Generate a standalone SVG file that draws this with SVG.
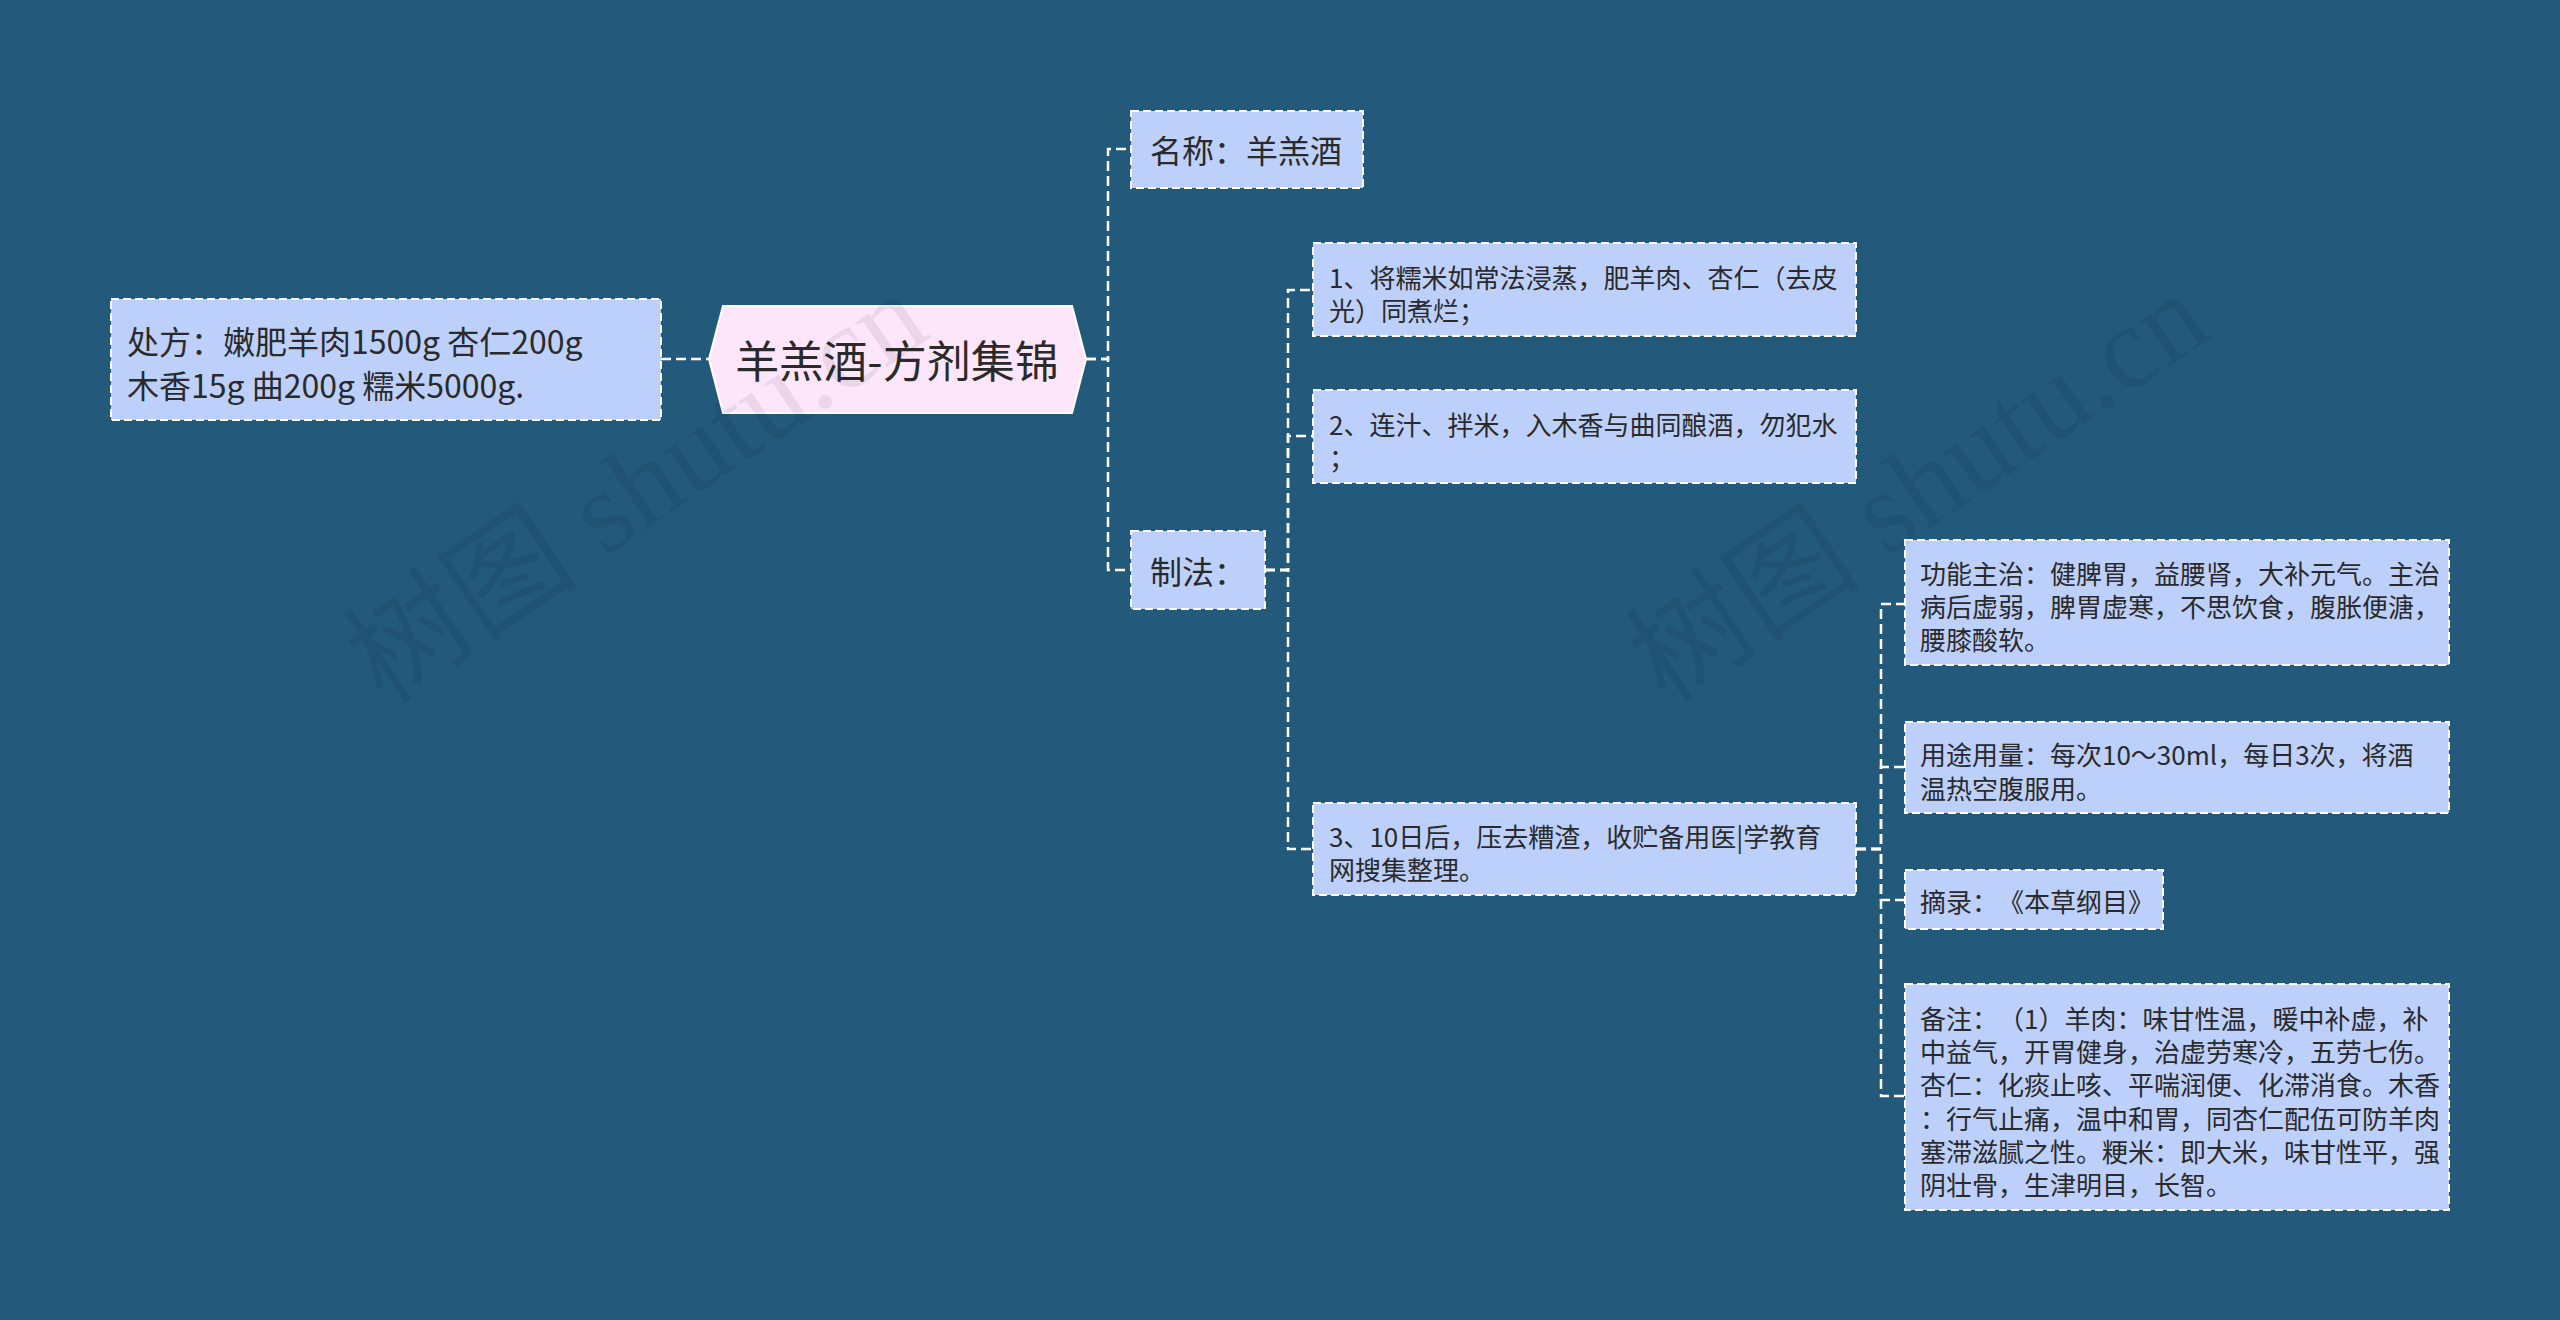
<svg xmlns="http://www.w3.org/2000/svg" width="2560" height="1320" viewBox="0 0 2560 1320">
<style>
.box{fill:#bdd0fb;stroke:#ffffff;stroke-width:2;stroke-dasharray:8 4}
.hex{fill:#fde6fa;stroke:#ffffff;stroke-width:2}
.t{font-family:"Noto Sans CJK SC","Noto Sans",sans-serif;fill:#2a2a2a;dominant-baseline:central;text-spacing-trim:space-all}
.big{font-size:32px}
.small{font-size:26px}
.title{font-size:44px}
.con{fill:none;stroke:#ffffff;stroke-width:2.5;stroke-dasharray:10 5}
.wm{font-family:"Liberation Serif","Noto Sans CJK SC",serif;font-size:118px;fill:#000000;fill-opacity:0.07}
</style>
<rect x="0" y="0" width="2560" height="1320" fill="#235a7c"/>
<g id="connectors">
<path class="con" d="M661 359 H709"/>
<path class="con" d="M1086 359 H1108 V149 H1131"/>
<path class="con" d="M1086 359 H1108 V570 H1131"/>
<path class="con" d="M1265 570 H1288 V290 H1313"/>
<path class="con" d="M1265 570 H1288 V436 H1313"/>
<path class="con" d="M1265 570 H1288 V849 H1313"/>
<path class="con" d="M1856 849 H1881 V604 H1905"/>
<path class="con" d="M1856 849 H1881 V767 H1905"/>
<path class="con" d="M1856 849 H1881 V900 H1905"/>
<path class="con" d="M1856 849 H1881 V1096 H1905"/>
</g>
<g id="root">
<polygon class="hex" points="709,359 723,306 1072,306 1086,359 1072,413 723,413"/>
<text class="t title" x="897" y="359" text-anchor="middle">羊羔酒-方剂集锦</text>
</g>
<g id="chufang">
<rect class="box" x="111" y="299" width="550" height="121"/>
<text class="t big" x="127" y="340">处方：嫩肥羊肉1500g 杏仁200g</text>
<text class="t big" x="127" y="384">木香15g 曲200g 糯米5000g.</text>
</g>
<g id="mingcheng">
<rect class="box" x="1131" y="111" width="232" height="77"/>
<text class="t big" x="1150" y="149">名称：羊羔酒</text>
</g>
<g id="zhifa">
<rect class="box" x="1131" y="531" width="134" height="78"/>
<text class="t big" x="1150" y="570">制法：</text>
</g>
<g id="step1">
<rect class="box" x="1313" y="243" width="543" height="93"/>
<text class="t small" x="1329" y="276">1、将糯米如常法浸蒸，肥羊肉、杏仁（去皮</text>
<text class="t small" x="1329" y="309">光）同煮烂；</text>
</g>
<g id="step2">
<rect class="box" x="1313" y="390" width="543" height="93"/>
<text class="t small" x="1329" y="423">2、连汁、拌米，入木香与曲同酿酒，勿犯水</text>
<text class="t small" x="1329" y="456">；</text>
</g>
<g id="step3">
<rect class="box" x="1313" y="803" width="543" height="92"/>
<text class="t small" x="1329" y="835">3、10日后，压去糟渣，收贮备用医|学教育</text>
<text class="t small" x="1329" y="868">网搜集整理。</text>
</g>
<g id="gongneng">
<rect class="box" x="1905" y="540" width="544" height="125"/>
<text class="t small" x="1920" y="572">功能主治：健脾胃，益腰肾，大补元气。主治</text>
<text class="t small" x="1920" y="605">病后虚弱，脾胃虚寒，不思饮食，腹胀便溏，</text>
<text class="t small" x="1920" y="638">腰膝酸软。</text>
</g>
<g id="yongtu">
<rect class="box" x="1905" y="722" width="544" height="91"/>
<text class="t small" x="1920" y="753">用途用量：每次10～30ml，每日3次，将酒</text>
<text class="t small" x="1920" y="787">温热空腹服用。</text>
</g>
<g id="zhailu">
<rect class="box" x="1905" y="870" width="258" height="59"/>
<text class="t small" x="1920" y="900">摘录：《本草纲目》</text>
</g>
<g id="beizhu">
<rect class="box" x="1905" y="984" width="544" height="226"/>
<text class="t small" x="1920" y="1017">备注：（1）羊肉：味甘性温，暖中补虚，补</text>
<text class="t small" x="1920" y="1050">中益气，开胃健身，治虚劳寒冷，五劳七伤。</text>
<text class="t small" x="1920" y="1083">杏仁：化痰止咳、平喘润便、化滞消食。木香</text>
<text class="t small" x="1920" y="1117">：行气止痛，温中和胃，同杏仁配伍可防羊肉</text>
<text class="t small" x="1920" y="1150">塞滞滋腻之性。粳米：即大米，味甘性平，强</text>
<text class="t small" x="1920" y="1183">阴壮骨，生津明目，长智。</text>
</g>
<g id="watermarks">
<text class="wm" transform="translate(384,706) rotate(-34)">树图 shutu.cn</text>
<text class="wm" transform="translate(1666,706) rotate(-34)">树图 shutu.cn</text>
</g>
</svg>
